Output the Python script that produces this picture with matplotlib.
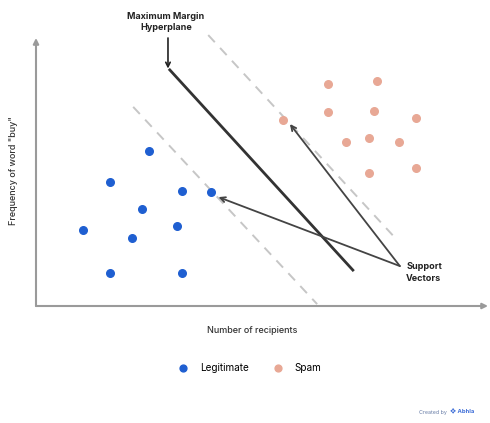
import matplotlib
matplotlib.use('Agg')
import matplotlib.pyplot as plt

plt.rcParams['font.family'] = ['Inter', 'DejaVu Sans']

# data (axis units 0-100)
legit_x = [25.0, 16.4, 32.3, 38.7, 23.5, 10.4, 31.2, 21.2, 16.4, 32.3]
legit_y = [57.8, 46.3, 42.9, 42.5, 36.2, 28.4, 29.9, 25.4, 12.3, 12.3]
spam_x = [64.6, 75.4, 64.6, 74.8, 84.1, 54.6, 68.6, 73.7, 80.3, 73.7, 84.1]
spam_y = [82.8, 84.0, 72.4, 72.8, 70.1, 69.4, 61.2, 62.7, 61.2, 49.6, 51.5]

hyperplane_x = [29.6, 70.1]
hyperplane_y = [88.1, 13.4]
margin_low_x = [21.5, 62.2]
margin_low_y = [74.3, 0.7]
margin_high_x = [38.1, 79.9]
margin_high_y = [101.1, 24.6]

support_targets = [(39.8, 41.0), (55.8, 68.7)]
support_origin = (80.5, 14.9)

W, H = 490, 423
fig = plt.figure(figsize=(W / 100, H / 100), dpi=100)
ax = fig.add_axes([36 / W, 1 - 306 / H, 452 / W, 268 / H])
ax.set_xlim(0, 100)
ax.set_ylim(0, 100)
ax.axis('off')

# axes with arrows
axis_col = '#9a9a9a'
ax.annotate('', xy=(0, 100), xytext=(0, 0),
            arrowprops=dict(arrowstyle='-|>', color=axis_col, lw=1.5,
                            mutation_scale=8, shrinkA=0, shrinkB=0),
            annotation_clip=False)
ax.annotate('', xy=(100, 0), xytext=(0, 0),
            arrowprops=dict(arrowstyle='-|>', color=axis_col, lw=1.5,
                            mutation_scale=8, shrinkA=0, shrinkB=0),
            annotation_clip=False)

# margins and hyperplane
ax.plot(margin_low_x, margin_low_y, color='#c6c6c6', lw=1.4, ls=(0, (5, 4)), clip_on=False)
ax.plot(margin_high_x, margin_high_y, color='#c6c6c6', lw=1.4, ls=(0, (5, 4)), clip_on=False)
ax.plot(hyperplane_x, hyperplane_y, color='#333333', lw=2.0, clip_on=False)

# points
ax.scatter(legit_x, legit_y, s=30, color='#1f5fd1', zorder=3, label='Legitimate')
ax.scatter(spam_x, spam_y, s=30, color='#e8a895', zorder=3, label='Spam')

# support vector arrows
for tx, ty in support_targets:
    ax.annotate('', xy=(tx, ty), xytext=support_origin,
                arrowprops=dict(arrowstyle='->', color='#444444', lw=1.3,
                                mutation_scale=9, shrinkA=0, shrinkB=2),
                annotation_clip=False)
ax.text(81.9, 12.5, 'Support\nVectors', fontsize=6.5, fontweight='bold',
        color='#222222', ha='left', va='center', linespacing=1.3)

# hyperplane label
ax.annotate('', xy=(29.2, 88.6), xytext=(29.2, 100),
            arrowprops=dict(arrowstyle='->', color='#222222', lw=1.2,
                            mutation_scale=8, shrinkA=0, shrinkB=0),
            annotation_clip=False)
fig.text(166 / W, 1 - 22 / H, 'Maximum Margin\nHyperplane', fontsize=6.5,
         fontweight='bold', color='#222222', ha='center', va='center',
         linespacing=1.3)

# axis labels
fig.text(13 / W, 1 - 171 / H, 'Frequency of word "buy"', rotation=90,
         fontsize=6.5, color='#333333', ha='center', va='center', fontweight='medium')
fig.text(252 / W, 1 - 330 / H, 'Number of recipients', fontsize=6.5,
         color='#333333', ha='center', va='center', fontweight='medium')

# legend
fig.legend(loc='center', bbox_to_anchor=(247 / W, 1 - 368 / H), ncol=2,
           frameon=False, fontsize=7.2, handletextpad=0.7, columnspacing=1.9,
           markerscale=0.9)

# credit
fig.text(447 / W, 1 - 412 / H, 'Created by', fontsize=3.8, color='#6a7fa8',
         ha='right', va='center')
fig.text(450 / W, 1 - 412 / H, '\u2756 Abhla', fontsize=4.2, color='#3f6fd8',
         ha='left', va='center', fontweight='bold')

fig.savefig('out.png', dpi=100)
